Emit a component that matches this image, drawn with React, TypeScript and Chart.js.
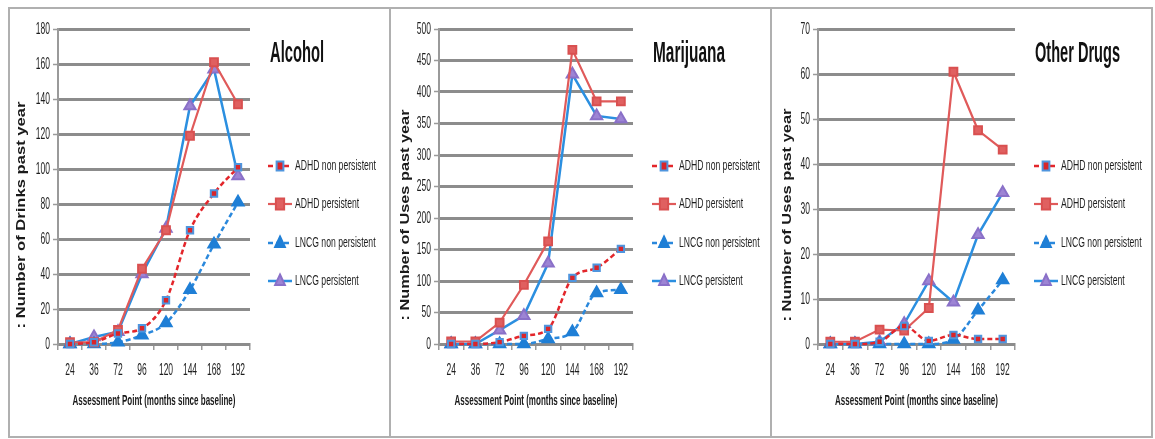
import React, { useEffect, useRef } from 'react';
import { Chart, registerables } from 'chart.js';

Chart.register(...registerables);

// ---------- data ----------
const months = ['24', '36', '72', '96', '120', '144', '168', '192'];
const seriesNames = ['ADHD non persistent', 'ADHD persistent', 'LNCG non persistent', 'LNCG persistent'];

const alcoholAdhdNon = [0, 1, 6, 9, 25, 65, 86, 101];
const alcoholAdhdPers = [1, 1, 8, 43, 65, 119, 161, 137];
const alcoholLncgNon = [0, 0, 1, 5, 12, 31, 57, 81];
const alcoholLncgPers = [0, 4, 7, 40, 66, 136, 157, 96];

const marijuanaAdhdNon = [0, 0, 3, 13, 24, 105, 121, 151];
const marijuanaAdhdPers = [4, 4, 34, 94, 163, 467, 385, 385];
const marijuanaLncgNon = [0, 0, 0, 0, 8, 19, 81, 86];
const marijuanaLncgPers = [0, 0, 22, 45, 128, 428, 362, 357];

const otherAdhdNon = [0, 0, 0.5, 4, 0.7, 2, 1.1, 1.1];
const otherAdhdPers = [0.5, 0.5, 3.2, 3, 8, 60.5, 47.5, 43.2];
const otherLncgNon = [0, 0, 0, 0, 0, 1, 7.5, 14.2];
const otherLncgPers = [0, 0, 0.5, 4.5, 14, 9.3, 24.3, 33.6];

const titles = ['Alcohol', 'Marijuana', 'Other Drugs'];
const yAxisTitles = [': Number of Drinks past year', ': Number of Uses past year', ': Number of Uses past year'];
const xAxisTitle = 'Assessment Point (months since baseline)';
const yMaxes = [180, 500, 70];
const ySteps = [20, 50, 10];

// ---------- styles / layout ----------
const seriesStyles = [
  { color: '#e3262b', dash: [5, 3], width: 2.5, pointStyle: 'rect', fill: '#d9252a', border: '#4f95de', radius: 4.5, smooth: true },
  { color: '#e05a5a', dash: [], width: 2.2, pointStyle: 'rect', fill: '#e06060', border: '#d95050', radius: 5.5, smooth: false },
  { color: '#2a88dc', dash: [5, 3], width: 2.5, pointStyle: 'triangle', fill: '#1f7fd6', border: '#1f7fd6', radius: 6.5, smooth: true },
  { color: '#2b8fe0', dash: [], width: 2.5, pointStyle: 'triangle', fill: '#9d84d4', border: '#8a70c8', radius: 6.5, smooth: false },
];

const panels = [
  { left: 8, yAxisW: 48, padRight: 139, legendX: 258, titleX: 260, titleW: 54, yTitleX: 12, yTitleLen: 227,
    data: [alcoholAdhdNon, alcoholAdhdPers, alcoholLncgNon, alcoholLncgPers] },
  { left: 389, yAxisW: 48, padRight: 137, legendX: 261, titleX: 262, titleW: 72, yTitleX: 15, yTitleLen: 211,
    data: [marijuanaAdhdNon, marijuanaAdhdPers, marijuanaLncgNon, marijuanaLncgPers] },
  { left: 770, yAxisW: 46, padRight: 136, legendX: 262, titleX: 263, titleW: 85, yTitleX: 16, yTitleLen: 213,
    data: [otherAdhdNon, otherAdhdPers, otherLncgNon, otherLncgPers] },
];

const PANEL_W = 383;
const PANEL_H = 431;
const CANVAS_W = PANEL_W - 4;
const CANVAS_H = PANEL_H - 4;
const legendYs = [157, 195, 234, 272];
const FONT = '"Liberation Sans", Arial, sans-serif';

function drawText(ctx: CanvasRenderingContext2D, text: string, x: number, y: number, o: any) {
  ctx.save();
  ctx.font = o.font;
  ctx.fillStyle = o.color || '#222';
  ctx.textBaseline = 'middle';
  const w = ctx.measureText(text).width;
  const sx = o.width ? o.width / w : o.scaleX || 1;
  ctx.translate(x, y);
  if (o.rotate) {
    ctx.scale(o.cross || 1, 1);
    ctx.rotate(-Math.PI / 2);
    ctx.scale(sx, 1);
    ctx.textAlign = 'center';
  } else {
    ctx.scale(sx, 1);
    ctx.textAlign = o.align || 'left';
  }
  ctx.fillText(text, 0, 0);
  ctx.restore();
}

function drawMarker(ctx: CanvasRenderingContext2D, st: any, x: number, y: number) {
  ctx.save();
  ctx.fillStyle = st.fill;
  ctx.strokeStyle = st.border;
  ctx.lineWidth = 2;
  ctx.setLineDash([]);
  ctx.beginPath();
  const r = st.radius;
  if (st.pointStyle === 'rect') {
    ctx.rect(x - r * 0.75, y - r, r * 1.5, r * 2);
  } else {
    ctx.moveTo(x, y - r);
    ctx.lineTo(x + r * 0.75, y + r * 0.6);
    ctx.lineTo(x - r * 0.75, y + r * 0.6);
    ctx.closePath();
  }
  ctx.fill();
  ctx.stroke();
  ctx.restore();
}

function makeTextPlugin(pi: number) {
  const p = panels[pi];
  return {
    id: 'texts' + pi,
    afterDraw(chart: any) {
      const ctx: CanvasRenderingContext2D = chart.ctx;
      const xs = chart.scales.x;
      const ys = chart.scales.y;
      const area = chart.chartArea;
      // y tick labels
      ys.ticks.forEach((t: any, i: number) => {
        drawText(ctx, String(t.value), area.left - 8, ys.getPixelForTick(i), {
          font: `17px ${FONT}`, scaleX: 0.5, align: 'right', color: '#1e1e1e',
        });
      });
      // x tick labels
      months.forEach((m, i) => {
        drawText(ctx, m, xs.getPixelForValue(i), area.bottom + 26, {
          font: `17px ${FONT}`, scaleX: 0.5, align: 'center', color: '#1e1e1e',
        });
      });
      // x axis title
      drawText(ctx, xAxisTitle, (area.left + area.right) / 2, area.bottom + 57, {
        font: `bold 15px ${FONT}`, width: 163, align: 'center', color: '#1a1a1a',
      });
      // y axis title
      drawText(ctx, yAxisTitles[pi], p.yTitleX, 206, {
        font: `bold 14px ${FONT}`, width: p.yTitleLen, rotate: true, cross: 0.85, color: '#1a1a1a',
      });
      // chart title
      drawText(ctx, titles[pi], p.titleX, 45, {
        font: `bold 30px ${FONT}`, width: p.titleW, align: 'left', color: '#111',
      });
      // legend
      seriesNames.forEach((name, i) => {
        const st = seriesStyles[i];
        const y = legendYs[i];
        ctx.save();
        ctx.strokeStyle = st.color;
        ctx.lineWidth = st.width;
        ctx.setLineDash(st.dash);
        ctx.beginPath();
        ctx.moveTo(p.legendX, y);
        ctx.lineTo(p.legendX + 24, y);
        ctx.stroke();
        ctx.restore();
        drawMarker(ctx, st, p.legendX + 12, y);
        drawText(ctx, name, p.legendX + 27, y, {
          font: `15px ${FONT}`, scaleX: 0.575, align: 'left', color: '#1e1e1e',
        });
      });
    },
  };
}

function Panel({ index }: { index: number }) {
  const ref = useRef<HTMLCanvasElement>(null);
  useEffect(() => {
    const p = panels[index];
    const datasets = p.data.map((d, i) => {
      const st = seriesStyles[i];
      return {
        label: seriesNames[i],
        data: d,
        borderColor: st.color,
        borderWidth: st.width,
        borderDash: st.dash,
        backgroundColor: st.fill,
        pointStyle: st.pointStyle,
        pointRadius: st.radius,
        pointBackgroundColor: st.fill,
        pointBorderColor: st.border,
        pointBorderWidth: 2,
        cubicInterpolationMode: st.smooth ? 'monotone' : 'default',
        tension: 0,
        fill: false,
        clip: false,
      };
    });
    const chart = new Chart(ref.current as HTMLCanvasElement, {
      type: 'line',
      data: { labels: months, datasets: datasets as any },
      options: {
        responsive: false,
        animation: false,
        events: [],
        layout: { padding: { left: 0, right: p.padRight, top: 20, bottom: 0 } },
        plugins: { legend: { display: false }, tooltip: { enabled: false }, title: { display: false } },
        scales: {
          x: {
            type: 'category',
            offset: true,
            grid: { offset: true, drawOnChartArea: false, drawTicks: true, tickLength: 6, color: '#9a9a9a', lineWidth: 1.5 },
            border: { display: true, color: '#8c8c8c', width: 3 },
            ticks: { display: false },
            afterFit: (s: any) => { s.height = CANVAS_H - 335; },
          },
          y: {
            min: 0,
            max: yMaxes[index],
            ticks: { display: false, stepSize: ySteps[index] },
            grid: { color: '#8c8c8c', lineWidth: 3, drawTicks: true, tickLength: 5, tickWidth: 1.5, tickColor: '#9a9a9a' },
            border: { display: true, color: '#9a9a9a', width: 2 },
            afterFit: (s: any) => { s.width = p.yAxisW; },
          },
        },
      },
      plugins: [makeTextPlugin(index)],
    } as any);
    return () => chart.destroy();
  }, [index]);
  const p = panels[index];
  return (
    <div
      style={{
        position: 'absolute',
        left: p.left,
        top: 7,
        width: PANEL_W,
        height: PANEL_H,
        boxSizing: 'border-box',
        border: '2px solid #b0b0b0',
        background: '#fff',
      }}
    >
      <canvas ref={ref} width={CANVAS_W} height={CANVAS_H} style={{ display: 'block' }} />
    </div>
  );
}

export default function App() {
  return (
    <div style={{ position: 'absolute', left: 0, top: 0, width: 1155, height: 439, background: '#fff' }}>
      {panels.map((_, i) => (
        <Panel key={i} index={i} />
      ))}
    </div>
  );
}
